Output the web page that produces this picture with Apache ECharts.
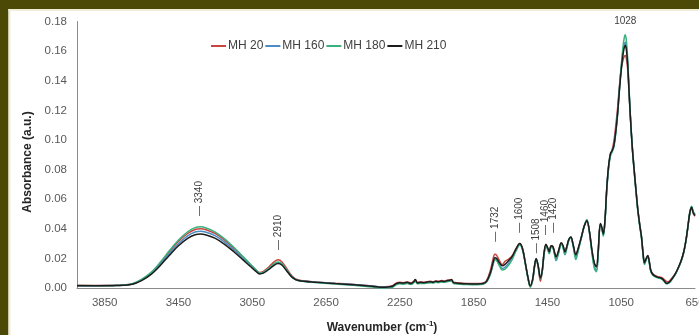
<!DOCTYPE html>
<html>
<head>
<meta charset="utf-8">
<script src="https://cdn.jsdelivr.net/npm/echarts@6/dist/echarts.min.js"></script>
<style>
html,body{margin:0;padding:0;background:#fff;overflow:hidden;}
#chart{width:699px;height:335px;}
</style>
</head>
<body>
<div id="chart"></div>
<script>
// Wavenumbers (cm-1), descending
const WAVENUMBERS = [
  4000,3900,3800,3750,3700,3650,3600,3550,3500,3450,3400,3360,3330,3300,3250,3200,3150,3100,3060,3030,3010,2990,2960,2930,2910,2890,2860,2830,2800,2700,2600,2500,2400,2340,2310,
  2290,2270,2250,2230,2210,2190,2175,2166,2155,2140,2120,2100,2085,2070,2055,2040,2025,2010,1995,1980,1970,1960,1945,1920,1890,1860,1830,1800,
  1780,1760,1745,1735,1725,1710,1695,1680,1660,1640,1620,1600,1585,1570,1555,1543,1530,1520,1511,1500,1488,1478,1468,1458,1448,1440,1430,1420,1410,1403,1390,1375,1365,1355,1345,1335,1323,1310,1296,1285,1265,1250,1236,1222,1208,1195,1184,
  1175,1163,1155,1147,1138,1128,1118,1108,1100,1090,1080,1070,1060,1050,1042,1035,1028,1022,1015,1008,1000,990,980,970,960,950,940,932,924,916,906,898,890,880,865,850,835,825,815,805,795,785,770,755,740,725,710,698,688,678,668,660,650
];

const MH20 = [
  .0018,.0017,.0018,.0021,.0028,.0056,.0100,.0166,.0243,.0314,.0368,.0395,.0400,.0393,.0367,.0323,.0268,.0208,.0159,.0123,.0105,.0112,.0142,.0178,.0190,.0178,.0125,.0075,.0054,.0040,.0032,.0024,.0014,.0007,.0010,
  .0015,.0033,.0038,.0036,.0041,.0034,.0045,.0055,.0038,.0041,.0039,.0043,.0046,.0042,.0048,.0045,.0050,.0047,.0052,.0054,.0056,.0040,.0036,.0033,.0031,.0030,.0030,.0033,
  .0050,.0115,.0195,.0228,.0220,.0185,.0158,.0180,.0195,.0220,.0265,.0300,.0268,.0172,.0065,.0010,.0050,.0140,.0195,.0140,.0045,.0110,.0235,.0292,.0268,.0245,.0283,.0278,.0232,.0210,.0248,.0303,.0283,.0245,.0278,.0322,.0343,.0288,.0222,.0258,.0348,.0418,.0453,.0378,.0245,.0160,.0140,
  .0240,.0430,.0405,.0360,.0455,.0670,.0820,.0900,.0930,.0990,.1090,.1210,.1360,.1480,.1530,.1560,.1570,.1550,.1480,.1330,.1150,.0955,.0805,.0665,.0535,.0435,.0348,.0245,.0172,.0195,.0218,.0180,.0122,.0098,.0083,.0075,.0072,.0066,.0055,.0045,.0042,.0052,.0075,.0098,.0135,.0180,.0245,.0325,.0415,.0505,.0540,.0505,.0485
];

const MH160 = [
  .0016,.0016,.0017,.0019,.0027,.0053,.0095,.0158,.0231,.0299,.0352,.0378,.0383,.0376,.0352,.0310,.0257,.0199,.0152,.0117,.0100,.0105,.0131,.0162,.0172,.0162,.0114,.0070,.0051,.0039,.0031,.0023,.0013,.0006,.0009,
  .0010,.0026,.0032,.0030,.0034,.0028,.0038,.0048,.0032,.0035,.0034,.0037,.0040,.0037,.0042,.0040,.0044,.0042,.0046,.0048,.0050,.0035,.0031,.0028,.0026,.0025,.0025,.0028,
  .0042,.0095,.0160,.0195,.0188,.0155,.0132,.0140,.0168,.0205,.0258,.0295,.0262,.0168,.0068,.0012,.0058,.0148,.0198,.0150,.0065,.0115,.0232,.0288,.0262,.0235,.0278,.0272,.0222,.0185,.0235,.0300,.0275,.0225,.0270,.0320,.0342,.0285,.0210,.0250,.0345,.0418,.0455,.0375,.0240,.0140,.0120,
  .0235,.0430,.0405,.0358,.0455,.0675,.0825,.0905,.0925,.0965,.1055,.1180,.1345,.1490,.1585,.1640,.1660,.1630,.1525,.1350,.1155,.0955,.0800,.0660,.0530,.0430,.0342,.0235,.0165,.0190,.0215,.0175,.0118,.0092,.0078,.0070,.0066,.0058,.0043,.0030,.0033,.0043,.0068,.0098,.0138,.0183,.0248,.0328,.0418,.0508,.0545,.0512,.0492
];

const MH180 = [
  .0017,.0016,.0017,.0020,.0029,.0058,.0104,.0172,.0251,.0324,.0380,.0408,.0413,.0405,.0378,.0332,.0275,.0212,.0161,.0123,.0102,.0106,.0133,.0165,.0175,.0164,.0115,.0070,.0050,.0036,.0027,.0018,.0006,.0000,.0003,
  .0005,.0022,.0028,.0026,.0030,.0024,.0034,.0045,.0028,.0031,.0030,.0033,.0036,.0033,.0038,.0036,.0040,.0038,.0042,.0045,.0048,.0032,.0028,.0025,.0023,.0022,.0022,.0025,
  .0040,.0090,.0155,.0192,.0185,.0150,.0122,.0128,.0155,.0195,.0250,.0290,.0258,.0165,.0060,.0005,.0055,.0145,.0192,.0148,.0062,.0112,.0228,.0283,.0258,.0232,.0275,.0270,.0218,.0192,.0235,.0298,.0270,.0228,.0268,.0318,.0340,.0280,.0192,.0240,.0345,.0422,.0462,.0372,.0230,.0130,.0110,
  .0225,.0425,.0400,.0350,.0450,.0665,.0815,.0895,.0915,.0950,.1040,.1165,.1335,.1495,.1610,.1680,.1710,.1670,.1545,.1355,.1150,.0945,.0790,.0650,.0520,.0420,.0335,.0228,.0158,.0185,.0212,.0170,.0112,.0088,.0075,.0068,.0064,.0056,.0041,.0028,.0031,.0041,.0066,.0096,.0136,.0182,.0248,.0330,.0422,.0515,.0552,.0518,.0498
];

const MH210 = [
  .0015,.0015,.0016,.0018,.0025,.0050,.0090,.0150,.0220,.0285,.0335,.0360,.0365,.0358,.0335,.0295,.0245,.0190,.0145,.0112,.0095,.0100,.0125,.0155,.0165,.0155,.0110,.0068,.0050,.0038,.0030,.0022,.0012,.0005,.0008,
  .0012,.0030,.0036,.0033,.0038,.0030,.0042,.0058,.0034,.0038,.0036,.0040,.0043,.0039,.0046,.0042,.0047,.0044,.0049,.0052,.0058,.0037,.0033,.0030,.0028,.0027,.0027,.0030,
  .0045,.0100,.0170,.0205,.0200,.0170,.0150,.0160,.0185,.0215,.0265,.0300,.0265,.0170,.0070,.0015,.0060,.0150,.0200,.0150,.0068,.0120,.0240,.0295,.0270,.0245,.0285,.0280,.0235,.0210,.0250,.0305,.0285,.0245,.0280,.0325,.0345,.0290,.0225,.0260,.0350,.0420,.0455,.0380,.0250,.0165,.0145,
  .0250,.0435,.0410,.0365,.0460,.0680,.0830,.0910,.0925,.0960,.1050,.1170,.1330,.1470,.1560,.1615,.1640,.1610,.1510,.1340,.1150,.0950,.0800,.0660,.0530,.0430,.0345,.0240,.0170,.0195,.0220,.0180,.0120,.0095,.0080,.0072,.0068,.0060,.0045,.0032,.0035,.0045,.0070,.0100,.0140,.0185,.0250,.0330,.0420,.0510,.0545,.0510,.0490
];

const SERIES_NAMES = ['MH 20', 'MH 160', 'MH 180', 'MH 210'];
const SERIES_VALUES = [MH20, MH160, MH180, MH210];
const X_TICKS = [3850, 3450, 3050, 2650, 2250, 1850, 1450, 1050, 650];
const Y_TICKS = [0, 0.02, 0.04, 0.06, 0.08, 0.10, 0.12, 0.14, 0.16, 0.18];

// Peak annotations: label text and anchor (wavenumber, absorbance at label base)
const PEAK_LABELS = ['3340', '2910', '1732', '1600', '1508', '1460', '1420'];
const PEAK_ANCHOR_Y = [0.0486, 0.0257, 0.0313, 0.0374, 0.0234, 0.0358, 0.0374];
const TOP_LABEL = '1028';
const TOP_LABEL_Y = 0.1799;

const COLORS = ['#c9463f', '#4a8cc6', '#3bb07e', '#1c1c1c'];
const FONT = '"Liberation Sans", Arial, sans-serif';

const chart = echarts.init(document.getElementById('chart'), null, {renderer: 'canvas'});

const series = SERIES_NAMES.map((name, s) => ({
  name: name,
  type: 'line',
  data: WAVENUMBERS.map((w, i) => [w, SERIES_VALUES[s][i]]),
  showSymbol: false,
  symbol: 'none',
  smooth: 0.35,
  lineStyle: {width: 1.5, color: COLORS[s]},
  itemStyle: {color: COLORS[s]},
  clip: false,
  z: 2 + s
}));

chart.setOption({
  animation: false,
  backgroundColor: '#ffffff',
  textStyle: {fontFamily: FONT},
  grid: {left: 77, right: 4, top: 21.5, bottom: 47, containLabel: false, outerBoundsMode: 'none'},
  legend: {
    data: SERIES_NAMES,
    left: 211,
    top: 40,
    padding: 0,
    icon: 'rect',
    itemWidth: 15,
    itemHeight: 2,
    itemGap: 2,
    textStyle: {fontSize: 12, color: '#404040', fontFamily: FONT, padding: [0, 0, 0, -3]}
  },
  xAxis: {
    type: 'value',
    inverse: true,
    min: 650,
    max: 4000,
    axisLine: {show: true, onZero: false, lineStyle: {color: '#8a8a8a', width: 1}},
    axisTick: {show: false},
    splitLine: {show: false},
    axisLabel: {
      customValues: X_TICKS,
      formatter: v => String(v),
      fontSize: 11.5,
      color: '#595959',
      margin: 9,
      fontFamily: FONT,
      alignMinLabel: 'center',
      alignMaxLabel: 'center',
      hideOverlap: false
    }
  },
  yAxis: {
    type: 'value',
    min: 0,
    max: 0.18,
    interval: 0.02,
    axisLine: {show: true, lineStyle: {color: '#8a8a8a', width: 1}},
    axisTick: {show: false},
    splitLine: {show: false},
    axisLabel: {
      customValues: Y_TICKS,
      formatter: v => v.toFixed(2),
      fontSize: 11.5,
      color: '#595959',
      margin: 10,
      fontFamily: FONT
    }
  },
  series: series
});

function px(w, v) {
  return chart.convertToPixel({xAxisIndex: 0, yAxisIndex: 0}, [w, v]);
}

const graphics = [
  {type: 'rect', shape: {x: 0, y: 0, width: 699, height: 9}, style: {fill: '#4c4806'}, z: 100, silent: true},
  {type: 'rect', shape: {x: 0, y: 0, width: 8.5, height: 335}, style: {fill: '#4c4806'}, z: 100, silent: true},
  {type: 'rect', shape: {x: 8.5, y: 9, width: 691, height: 2}, style: {fill: '#efedd8'}, z: 100, silent: true},
  {type: 'rect', shape: {x: 8.5, y: 9, width: 2, height: 326}, style: {fill: '#efedd8'}, z: 100, silent: true},
  {
    type: 'text', x: 28, y: 162, rotation: Math.PI / 2, z: 50,
    style: {text: 'Absorbance (a.u.)', font: 'bold 12px ' + FONT, fill: '#262626', align: 'center', verticalAlign: 'middle'}
  },
  {
    type: 'text', x: 382, y: 327, z: 50,
    style: {
      text: '{a|Wavenumber (cm}{s|-1}{a|)}',
      align: 'center', verticalAlign: 'middle',
      rich: {
        a: {font: 'bold 12px ' + FONT, fill: '#262626', lineHeight: 14, verticalAlign: 'bottom'},
        s: {font: 'bold 8px ' + FONT, fill: '#262626', lineHeight: 14, verticalAlign: 'top'}
      }
    }
  }
];

PEAK_LABELS.forEach((lab, i) => {
  const p = px(Number(lab), PEAK_ANCHOR_Y[i]);
  graphics.push({
    type: 'text', x: p[0], y: p[1], rotation: Math.PI / 2, z: 50,
    style: {text: '\u2014 ' + lab, font: '10px ' + FONT, fill: '#404040', align: 'left', verticalAlign: 'middle'}
  });
});
const tp = px(Number(TOP_LABEL), TOP_LABEL_Y);
graphics.push({
  type: 'text', x: tp[0], y: tp[1], z: 50,
  style: {text: TOP_LABEL, font: '10px ' + FONT, fill: '#404040', align: 'center', verticalAlign: 'middle'}
});

chart.setOption({graphic: graphics});
</script>
</body>
</html>
